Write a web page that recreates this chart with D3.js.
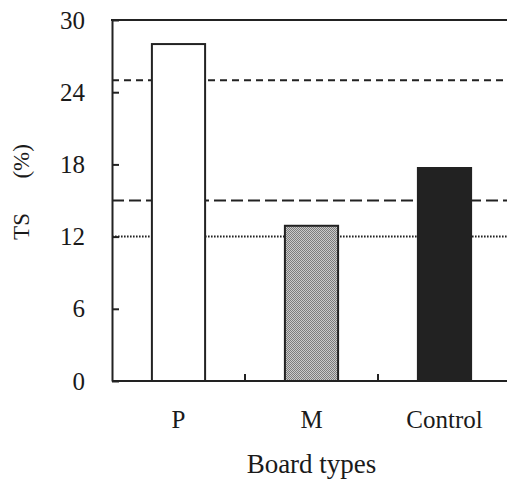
<!DOCTYPE html>
<html>
<head>
<meta charset="utf-8">
<script src="https://cdn.jsdelivr.net/npm/d3@7"></script>
<style>
  body { margin: 0; background: #fff; }
  svg text { font-family: "Liberation Serif", "Times New Roman", serif; fill: #1a1a1a; }
</style>
</head>
<body>
<script>
// chart values
const boardTypes = ['P', 'M', 'Control'];
const tsValues = [28.0, 12.9, 17.7];
const yTicks = [0, 6, 12, 18, 24, 30];
const refValues = [25, 15, 12];       // short dash, long dash, dotted
const refStyles = ['7,5', '12,5', '1.6,1.4'];

const width = 507, height = 481;
const margin = { top: 20, right: -4, bottom: 100, left: 112 };

const svg = d3.select('body').append('svg')
  .attr('width', width)
  .attr('height', height);

// checker pattern for the M bar
const defs = svg.append('defs');
const pat = defs.append('pattern')
  .attr('id', 'checker')
  .attr('width', 2).attr('height', 2)
  .attr('patternUnits', 'userSpaceOnUse');
pat.append('rect').attr('width', 2).attr('height', 2).attr('fill', '#cacaca');
pat.append('rect').attr('width', 1).attr('height', 1).attr('fill', '#7c7c7c');
pat.append('rect').attr('x', 1).attr('y', 1).attr('width', 1).attr('height', 1).attr('fill', '#7c7c7c');

const fills = ['#ffffff', 'url(#checker)', '#222222'];

const x = d3.scaleBand()
  .domain(boardTypes)
  .range([margin.left, width - margin.right])
  .padding(0);

const y = d3.scaleLinear()
  .domain([0, 30])
  .range([height - margin.bottom, margin.top]);

// reference lines
svg.selectAll('line.ref')
  .data(refValues)
  .enter()
  .append('line')
  .attr('class', 'ref')
  .attr('x1', margin.left)
  .attr('x2', width)
  .attr('y1', d => y(d))
  .attr('y2', d => y(d))
  .attr('stroke', '#222')
  .attr('stroke-width', 2)
  .attr('stroke-dasharray', (d, i) => refStyles[i]);

// bars
const barW = x.bandwidth() * 0.4;
svg.selectAll('rect.bar')
  .data(tsValues)
  .enter()
  .append('rect')
  .attr('class', 'bar')
  .attr('x', (d, i) => x(boardTypes[i]) + (x.bandwidth() - barW) / 2)
  .attr('y', d => y(d))
  .attr('width', barW)
  .attr('height', d => y(0) - y(d))
  .attr('fill', (d, i) => fills[i])
  .attr('stroke', '#222')
  .attr('stroke-width', 2);

// y axis, ticks pointing inward
const yAxis = svg.append('g')
  .attr('transform', `translate(${margin.left},0)`)
  .call(d3.axisLeft(y).tickValues(yTicks).tickSizeInner(-7).tickSizeOuter(0).tickPadding(27));
yAxis.select('.domain').attr('stroke', '#222').attr('stroke-width', 2);
yAxis.selectAll('.tick line').attr('stroke', '#222').attr('stroke-width', 2);
yAxis.selectAll('.tick text')
  .style('font-size', '25px')
  .style('font-family', '"Liberation Serif", serif')
  .attr('fill', '#1a1a1a');

// x axis with category labels
const xAxis = svg.append('g')
  .attr('transform', `translate(0,${y(0)})`)
  .call(d3.axisBottom(x).tickSize(0).tickPadding(29));
xAxis.select('.domain').remove();
xAxis.selectAll('.tick text')
  .style('font-size', '25px')
  .style('font-family', '"Liberation Serif", serif')
  .attr('fill', '#1a1a1a');

svg.append('line')
  .attr('x1', margin.left).attr('x2', width)
  .attr('y1', y(0)).attr('y2', y(0))
  .attr('stroke', '#222').attr('stroke-width', 2);

// top border
svg.append('line')
  .attr('x1', margin.left - 1).attr('x2', width)
  .attr('y1', y(30)).attr('y2', y(30))
  .attr('stroke', '#222').attr('stroke-width', 2);

// tick marks between categories, pointing up
svg.selectAll('line.xtick')
  .data(boardTypes.slice(1))
  .enter()
  .append('line')
  .attr('class', 'xtick')
  .attr('x1', d => x(d)).attr('x2', d => x(d))
  .attr('y1', y(0)).attr('y2', y(0) - 7)
  .attr('stroke', '#222').attr('stroke-width', 2);

// axis titles
svg.append('text')
  .attr('x', (margin.left + width - margin.right) / 2)
  .attr('y', 473)
  .attr('text-anchor', 'middle')
  .style('font-size', '27px')
  .text('Board types');

svg.append('text')
  .attr('transform', 'translate(29,192) rotate(-90)')
  .attr('text-anchor', 'middle')
  .style('font-size', '23px')
  .style('white-space', 'pre')
  .text('TS      (%)');
</script>
</body>
</html>
